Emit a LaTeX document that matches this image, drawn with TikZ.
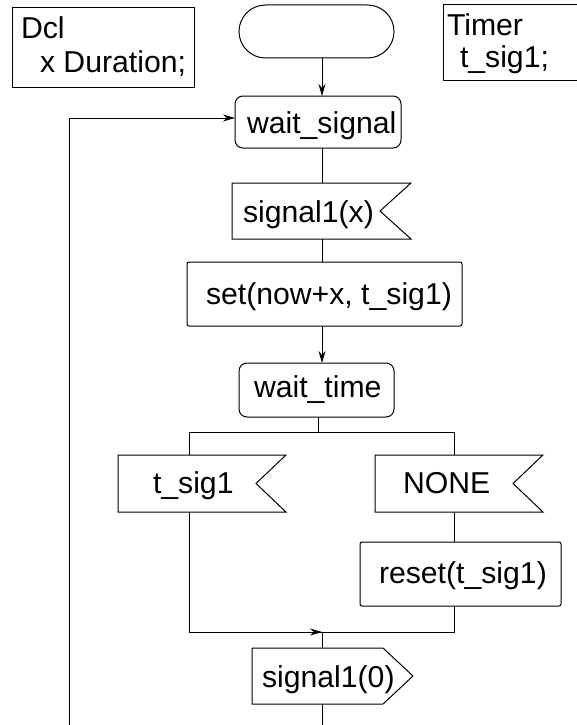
\documentclass[tikz,border=0pt]{standalone}
\usepackage{fontspec}
\setmainfont{Liberation Sans}
\usetikzlibrary{arrows.meta}
\newcommand\dfont{\fontsize{30.2pt}{36pt}\selectfont}
\begin{document}
\begin{tikzpicture}[x=1pt,y=-1pt,
  line width=1pt,
  frame/.style={inner sep=0pt,outer sep=0pt,anchor=north west},
  box/.style={frame,draw},
  rbox/.style={frame,draw,rounded corners=8pt},
  sbox/.style={frame,draw,rounded corners=2pt},
  txt/.style={anchor=base west,inner sep=0pt,outer sep=0pt,font=\dfont},
  arr/.style={-{Stealth[length=12pt,width=7pt]}}]
\useasboundingbox (0,0) rectangle (577,725);
% declarations
\node[box,minimum width=182pt,minimum height=79pt] (dcl) at (12,8) {};
\node[txt] (dclA) at (21,39) {Dcl};
\node[txt] (dclB) at (40,73) {x Duration;};
\node[box,minimum width=137pt,minimum height=75pt] (timer) at (443,5) {};
\node[txt] (timA) at (447,36) {Timer};
\node[txt] (timB) at (460,67) {t\_sig1;};
% start
\node[frame,draw,rounded corners=26.5pt,minimum width=155pt,minimum height=53pt] (start) at (239,5) {};
% wait_signal
\node[rbox,minimum width=166pt,minimum height=52pt] (ws) at (235,96) {};
\node[txt] (wsT) at (247,133) {wait\_signal};
% signal1(x) input
\node[frame,minimum width=179pt,minimum height=56pt] (s1) at (232,183) {};
\draw (s1.north west) -- (s1.north east) -- ([xshift=-31pt]s1.east) -- (s1.south east) -- (s1.south west) -- cycle;
\node[txt] (s1T) at (243,222) {signal1(x)};
% set
\node[sbox,minimum width=275pt,minimum height=64pt] (set) at (187,262) {};
\node[txt] (setT) at (206,304) {set(now+x, t\_sig1)};
% wait_time
\node[rbox,minimum width=155pt,minimum height=54pt] (wt) at (239,363) {};
\node[txt] (wtT) at (254,397) {wait\_time};
% t_sig1 input
\node[frame,minimum width=168pt,minimum height=57pt] (ts) at (118,455) {};
\draw (ts.north west) -- (ts.north east) -- ([xshift=-30pt]ts.east) -- (ts.south east) -- (ts.south west) -- cycle;
\node[txt] (tsT) at (153,493) {t\_sig1};
% NONE input
\node[frame,minimum width=168pt,minimum height=57pt] (none) at (375,455) {};
\draw (none.north west) -- (none.north east) -- ([xshift=-30pt]none.east) -- (none.south east) -- (none.south west) -- cycle;
\node[txt] (noneT) at (403,493) {NONE};
% reset
\node[sbox,minimum width=201pt,minimum height=64pt] (reset) at (360,542) {};
\node[txt] (resetT) at (379,583) {reset(t\_sig1)};
% signal1(0) output
\node[frame,minimum width=161pt,minimum height=56pt] (out) at (252,648) {};
\draw (out.north west) -- ([xshift=-30pt]out.north east) -- (out.east) -- ([xshift=-30pt]out.south east) -- (out.south west) -- cycle;
\node[txt] (outT) at (262,687) {signal1(0)};
% helper coordinates
\coordinate (wtb) at (318,432);
\coordinate (bl) at (189,432);
\coordinate (br) at (454,432);
\coordinate (ml) at (189,632);
\coordinate (mr) at (454,632);
\coordinate (mid) at (322,632);
\coordinate (endb) at (322,725);
\coordinate (loopb) at (69,725);
\coordinate (loopt) at (69,118);
% connectors
\draw[arr] (start.south -| mid) -- (ws.north -| mid);
\draw (ws.south -| mid) -- (s1.north -| mid);
\draw (s1.south -| mid) -- (set.north -| mid);
\draw[arr] (set.south -| mid) -- (wt.north -| mid);
\draw (wt.south -| wtb) -- (wtb);
\draw (bl |- ts.north) -- (bl) -- (br) -- (br |- none.north);
\draw (none.south -| br) -- (reset.north -| br);
\draw (ts.south -| bl) -- (ml) -- (mr) -- (reset.south -| mr);
\draw[arr] (ml) -- (mid);
\draw (mid) -- (out.north -| mid);
\draw (out.south -| mid) -- (endb);
\draw[arr] (loopb) -- (loopt) -- (ws.west |- loopt);
\end{tikzpicture}
\end{document}
